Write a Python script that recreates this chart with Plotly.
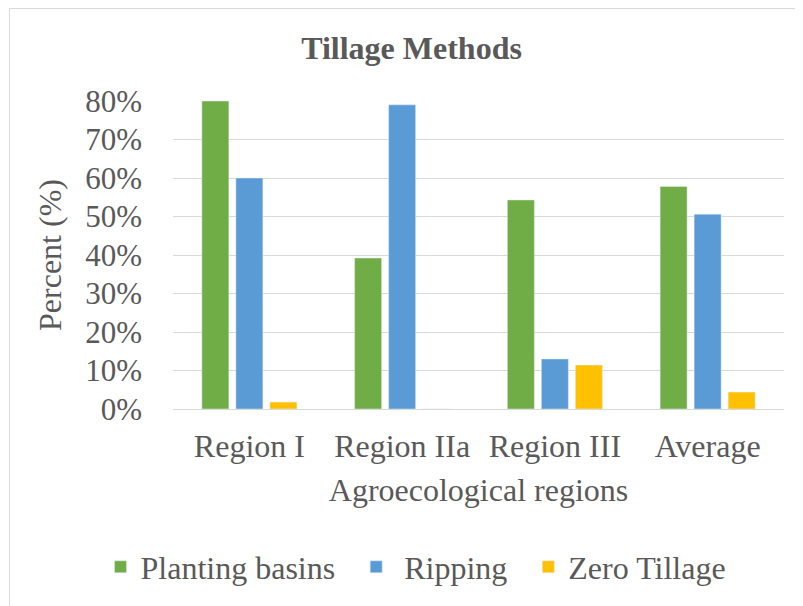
import plotly.graph_objects as go

categories = ["Region I", "Region IIa", "Region III", "Average"]
planting_basins = [80, 39.2, 54.3, 57.8]
ripping = [60, 79, 13, 50.6]
zero_tillage = [1.8, 0, 11.4, 4.4]
series_names = ["Planting basins", "\u00a0Ripping", "Zero Tillage"]
y_ticks = [0, 10, 20, 30, 40, 50, 60, 70, 80]
y_tick_labels = [f"{v}%" for v in y_ticks]

FONT = "Liberation Serif, Times New Roman, serif"
GRAY = "#595959"
PAD = "\u00a0\u00a0"

# the page body adds an 8px offset, so the figure is 8px smaller than the window
W, H = 795, 598
L, R, T, B = 165, 19, 93, 197
PW, PH = W - L - R, H - T - B

fig = go.Figure()
fig.add_bar(name=series_names[0] + PAD, x=categories, y=planting_basins, marker_color="#70AD47")
fig.add_bar(name=series_names[1] + PAD, x=categories, y=ripping, marker_color="#5B9BD5")
fig.add_bar(name=series_names[2], x=categories, y=zero_tillage, marker_color="#FFC000")

fig.update_layout(
    width=W, height=H,
    margin=dict(l=L, r=R, t=T, b=B, autoexpand=False),
    paper_bgcolor="white", plot_bgcolor="white",
    barmode="group", bargap=0.332, bargroupgap=0.206,
    font=dict(family=FONT, color=GRAY, size=32),
    title=dict(text="<b>Tillage Methods</b>", x=403.5 / W, xanchor="center",
               y=1 - 40 / H, yanchor="middle", xref="container", yref="container",
               font=dict(family=FONT, size=32, color=GRAY)),
    legend=dict(orientation="h", xref="paper", x=(92.5 - L) / PW, xanchor="left",
                yref="paper", y=-(559 - (H - B)) / PH, yanchor="middle",
                font=dict(family=FONT, size=32, color=GRAY),
                itemwidth=30, traceorder="normal"),
    showlegend=True,
)
fig.update_yaxes(range=[0, 80], tickvals=y_ticks, ticktext=y_tick_labels,
                 showgrid=True, gridcolor="#D9D9D9", gridwidth=1,
                 zeroline=False, showline=False,
                 ticks="", ticklabelstandoff=30,
                 tickfont=dict(family=FONT, size=31, color=GRAY),
                 title=dict(text="Percent (%)", standoff=13,
                            font=dict(family=FONT, size=32, color=GRAY)),
                 automargin=False)
fig.update_xaxes(showline=True, linecolor="#D9D9D9", linewidth=1,
                 ticks="", ticklabelstandoff=9,
                 tickfont=dict(family=FONT, size=32, color=GRAY),
                 title=dict(text="Agroecological regions", standoff=15,
                            font=dict(family=FONT, size=32, color=GRAY)),
                 automargin=False)

# chart-area border
fig.add_shape(type="rect", xref="paper", yref="paper",
              x0=(1.5 - L) / PW, x1=(W + 20 - L) / PW,
              y0=-1.0, y1=1 + (T - 0.5) / PH,
              line=dict(color="#D9D9D9", width=1), fillcolor="rgba(0,0,0,0)",
              layer="below")

fig.write_html("out.html")
